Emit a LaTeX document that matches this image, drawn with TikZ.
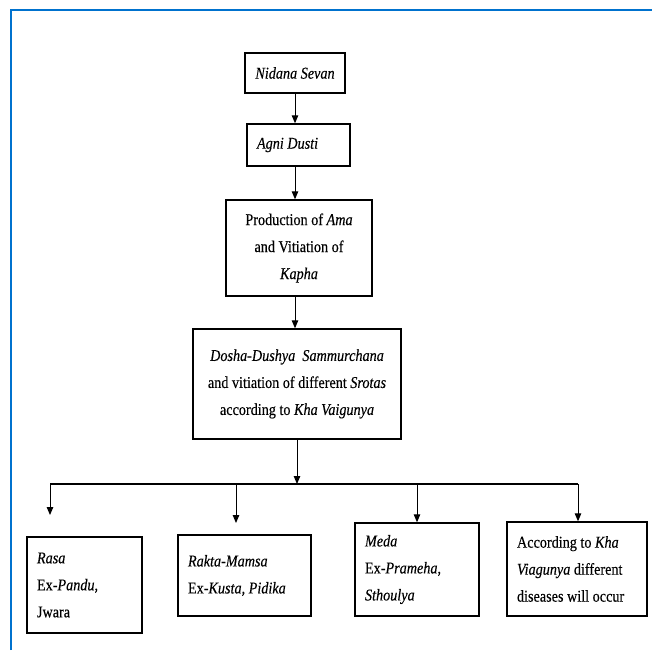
\documentclass[tikz,border=0pt]{standalone}
\usepackage{fontspec}
\setmainfont{Liberation Serif}[FakeStretch=0.86, FakeBold=0.3]
\usetikzlibrary{arrows.meta}
\definecolor{framecol}{RGB}{0,114,206}

\tikzset{
  frame/.style={draw=framecol, line width=2pt},
  box/.style={draw, line width=1.4pt, inner xsep=10pt, inner ysep=0pt,
    font=\fontsize{16.5}{27}\selectfont},
  arr/.style={-{Triangle[length=8pt,width=6.5pt]}, line width=1pt},
  bus/.style={line width=1.2pt},
}

\begin{document}
\begin{tikzpicture}[x=1pt, y=-1pt]
        \useasboundingbox (0, 0) rectangle (652, 650);
        % 外框
        \draw[frame] (11, 650) -- (11, 10.5) -- (652, 10.5);
        % 上方四个方框
        \node[box, minimum width=100pt, minimum height=40pt] (nidana) at (295, 73) {\textit{Nidana Sevan}};
        \node[box, text width=83pt, align=flush left, minimum height=42pt] (agni) at (298.5, 145) {\textit{Agni Dusti}};
        \node[box, text width=126pt, align=flush center, minimum height=96pt] (prod) at (299, 248)
          {Production of \textit{Ama}\\and Vitiation of\\\textit{Kapha}};
        \node[box, inner xsep=9pt, text width=190pt, align=flush center, minimum height=110pt] (dosha) at (297, 384)
          {\textit{Dosha-Dushya\ \ Sammurchana}\\and vitiation of different \textit{Srotas}\\according to \textit{Kha Vaigunya}};
        % 下方四个方框
        \node[box, text width=95pt, align=flush left, minimum height=96pt] (rasa) at (84.5, 585)
          {\textit{Rasa}\\Ex-\textit{Pandu},\\Jwara};
        \node[box, text width=113pt, align=flush left, minimum height=81pt] (rakta) at (244.5, 575.5)
          {\textit{Rakta-Mamsa}\\Ex-\textit{Kusta, Pidika}};
        \node[box, text width=104pt, align=flush left, minimum height=93pt] (meda) at (417, 569.5)
          {\textit{Meda}\\Ex-\textit{Prameha},\\\textit{Sthoulya}};
        \node[box, text width=120pt, align=flush left, minimum height=94pt] (kha) at (577, 569)
          {According to \textit{Kha}\\\textit{Viagunya} different\\diseases will occur};
        % 竖直箭头
        \draw[arr] (nidana.south) -- (nidana.south |- agni.north);
        \draw[arr] (agni.south -| nidana.south) -- (nidana.south |- prod.north);
        \draw[arr] (prod.south -| nidana.south) -- (nidana.south |- dosha.north);
        % 分支
        \coordinate (j1) at (50, 484);
        \coordinate (j2) at (236, 484);
        \coordinate (j3) at (417, 484);
        \coordinate (j4) at (578, 484);
        \coordinate (e1) at (50, 515);
        \coordinate (e2) at (236, 523);
        \draw[bus] (j1) -- (j4);
        \draw[arr] (dosha.south) -- (dosha.south |- j1);
        \draw[arr] (j1) -- (e1);
        \draw[arr] (j2) -- (e2);
        \draw[arr] (j3) -- (meda.north);
        \draw[arr] (j4) -- (j4 |- kha.north);
      \end{tikzpicture}
\end{document}
